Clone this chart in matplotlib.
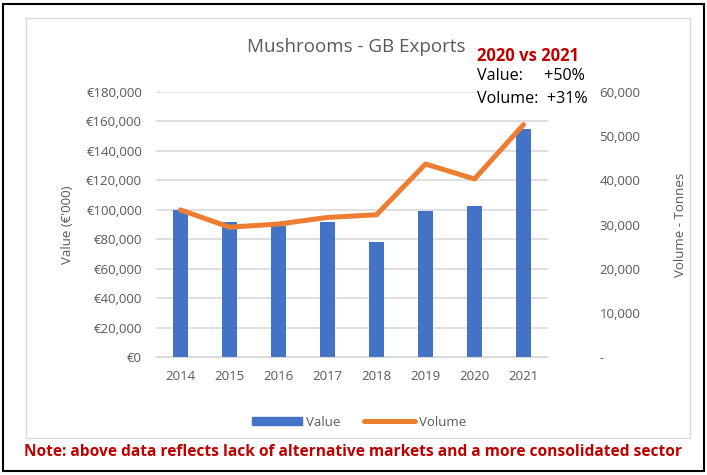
import matplotlib
matplotlib.use("Agg")
import matplotlib.pyplot as plt
from matplotlib.patches import Rectangle
from matplotlib.ticker import FuncFormatter, MultipleLocator
from matplotlib.lines import Line2D
import numpy as np

plt.rcParams['font.family'] = ['Open Sans', 'DejaVu Sans']

years = ['2014', '2015', '2016', '2017', '2018', '2019', '2020', '2021']
value_k = [100000, 91600, 89000, 91800, 78300, 99200, 102700, 154800]
volume_t = [33300, 29400, 30100, 31600, 32200, 43700, 40300, 52600]

grey = '#595959'
blue = '#4472C4'
orange = '#ED7D31'

fig = plt.figure(figsize=(7.07, 4.75), dpi=100)

# outer frame and chart-area frame
fig.patches.append(Rectangle((3/707, 4/475), 701/707, 467/475, transform=fig.transFigure,
                             fill=False, edgecolor='black', linewidth=1.5))
fig.patches.append(Rectangle((26/707, 37/475), 664/707, 420/475, transform=fig.transFigure,
                             fill=False, edgecolor='#D9D9D9', linewidth=1))

ax = fig.add_axes([156/707, 1 - 357/475, 392/707, 265/475])
x = np.arange(len(years))
ax.bar(x, value_k, width=0.32, color=blue, zorder=2)
ax.set_xlim(-0.5, 7.5)
ax.set_ylim(0, 180000)
ax.yaxis.set_major_locator(MultipleLocator(20000))
ax.yaxis.set_major_formatter(FuncFormatter(lambda v, p: '€{:,.0f}'.format(v)))
ax.grid(axis='y', color='#D9D9D9', linewidth=1.2, zorder=0)
ax.set_axisbelow(True)
ax.set_xticks(x)
ax.set_xticklabels(years)
for s in ax.spines.values():
    s.set_visible(False)
ax.spines['bottom'].set_visible(True)
ax.spines['bottom'].set_color('#D9D9D9')
ax.tick_params(length=0, colors=grey, labelsize=9.5)
ax.tick_params(axis='x', pad=9)
ax.tick_params(axis='y', pad=10)
ax.set_ylabel("Value (€'000)", color=grey, fontsize=9.5, labelpad=9)

ax2 = ax.twinx()
ax2.plot(x, volume_t, color=orange, linewidth=3.6, solid_capstyle='round', zorder=3)
ax2.set_ylim(0, 60000)
ax2.yaxis.set_major_locator(MultipleLocator(10000))
ax2.yaxis.set_major_formatter(FuncFormatter(lambda v, p: '-' if v == 0 else '{:,.0f}'.format(v)))
for s in ax2.spines.values():
    s.set_visible(False)
ax2.tick_params(length=0, colors=grey, labelsize=9.5, pad=37)
for lab in ax2.get_yticklabels():
    lab.set_horizontalalignment('left')
ax2.set_ylabel('Volume - Tonnes', color=grey, fontsize=9.5, labelpad=24)

fig.text(356/707, 1 - 47/475, 'Mushrooms - GB Exports', ha='center', va='center',
         color=grey, fontsize=13.5)

# annotation box covering the top gridline
fig.patches.append(Rectangle((476/707, 1 - 108/475), 122/707, 68/475, transform=fig.transFigure,
                             facecolor='white', edgecolor='none', zorder=5))
fig.text(477/707, 1 - 56/475, '2020 vs 2021', color='#C00000', fontsize=12,
         fontweight='bold', va='center', zorder=6)
fig.text(477/707, 1 - 76/475, 'Value:     +50%', color='black', fontsize=11.6,
         va='center', zorder=6)
fig.text(477/707, 1 - 99/475, 'Volume:  +31%', color='black', fontsize=11.6,
         va='center', zorder=6)

handles = [Rectangle((0, 0), 1, 1, color=blue),
           Line2D([0], [0], color=orange, linewidth=3.6, solid_capstyle='round')]
fig.legend(handles, ['Value', 'Volume'], loc='center', bbox_to_anchor=(359/707, 1 - 422/475),
           ncol=2, frameon=False, fontsize=9.5, labelcolor=grey, handlelength=3.8,
           handleheight=0.6, columnspacing=1.8, handletextpad=0.3)

fig.text(353/707, 1 - 452/475,
         'Note: above data reflects lack of alternative markets and a more consolidated sector',
         ha='center', va='center', color='#C00000', fontsize=11.2, fontweight='bold')

fig.savefig('out.png', dpi=100)
